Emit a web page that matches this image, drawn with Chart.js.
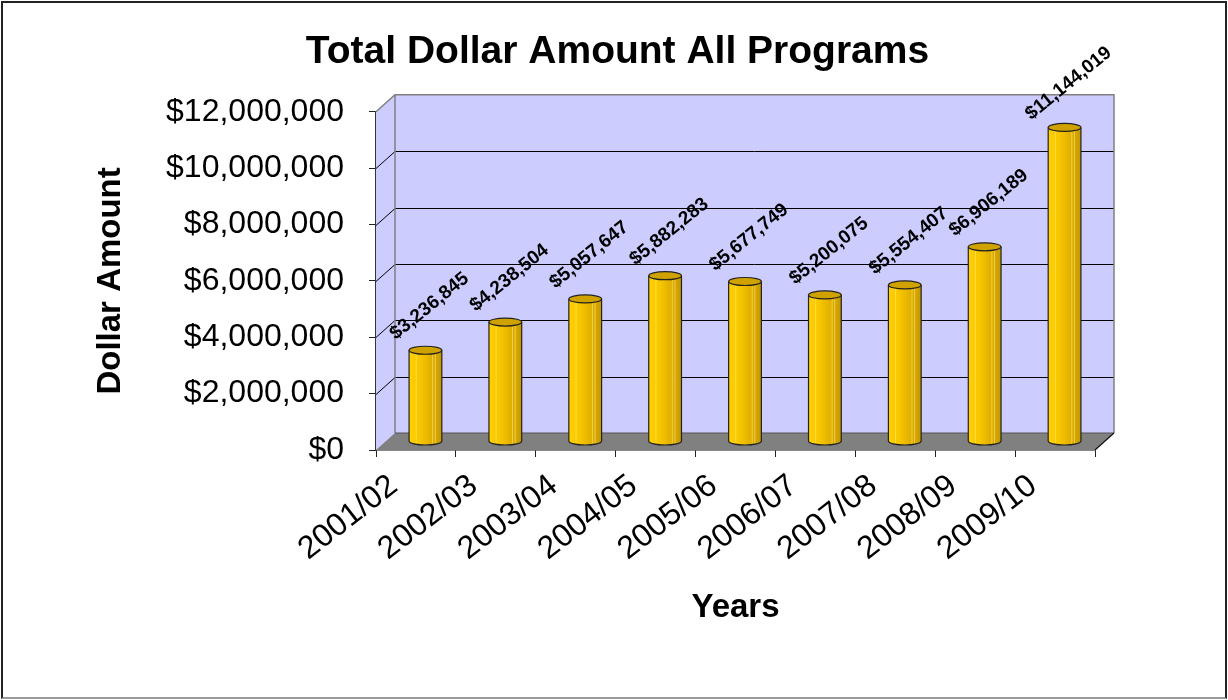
<!DOCTYPE html>
<html><head><meta charset="utf-8">
<script src="https://cdn.jsdelivr.net/npm/chart.js@4.4.1/dist/chart.umd.min.js"></script>
<style>
html,body{margin:0;padding:0;background:#fff;}
#wrap{position:relative;width:1228px;height:700px;}
#frame{position:absolute;left:1px;top:1px;width:1226px;height:698px;box-sizing:border-box;border:2px solid #222;border-bottom:2px solid #999;pointer-events:none;}
</style>
</head><body>
<div id="wrap"><canvas id="c" width="1228" height="700"></canvas><div id="frame"></div></div>
<script>
const categories = ['2001/02','2002/03','2003/04','2004/05','2005/06','2006/07','2007/08','2008/09','2009/10'];
const amounts = [3236845, 4238504, 5057647, 5882283, 5677749, 5200075, 5554407, 6906189, 11144019];
const yMin = 0, yMax = 12000000, yStep = 2000000;
const chartTitle = 'Total Dollar Amount All Programs';
const xTitle = 'Years';
const yTitle = 'Dollar Amount';

const FONT = '"Liberation Sans", Arial, Helvetica, sans-serif';
const DX = 19, DY = -17;
const money = v => '$' + Number(v).toLocaleString('en-US');

const depthPlugin = {
  id: 'depth3d',
  beforeDatasetsDraw(chart) {
    const {ctx, chartArea: a, scales: {y}} = chart;
    ctx.save();
    ctx.fillStyle = '#CCCCFF';
    ctx.beginPath();
    ctx.moveTo(a.left, a.top); ctx.lineTo(a.left + DX, a.top + DY);
    ctx.lineTo(a.right + DX, a.top + DY); ctx.lineTo(a.right + DX, a.bottom + DY);
    ctx.lineTo(a.left, a.bottom); ctx.closePath(); ctx.fill();
    ctx.strokeStyle = '#000'; ctx.lineWidth = 1;
    y.ticks.forEach(t => {
      if (t.value === yMin || t.value === yMax) return;
      const py = Math.round(y.getPixelForValue(t.value)) + 0.5;
      ctx.beginPath();
      ctx.moveTo(a.left, py); ctx.lineTo(a.left + DX, py + DY); ctx.lineTo(a.right + DX, py + DY);
      ctx.stroke();
    });
    ctx.strokeStyle = '#808080'; ctx.lineWidth = 1.5;
    ctx.beginPath();
    ctx.moveTo(a.left, a.top); ctx.lineTo(a.left + DX, a.top + DY);
    ctx.lineTo(a.right + DX, a.top + DY); ctx.lineTo(a.right + DX, a.bottom + DY);
    ctx.moveTo(a.left + DX, a.top + DY); ctx.lineTo(a.left + DX, a.bottom + DY);
    ctx.stroke();
    ctx.fillStyle = '#808080';
    ctx.beginPath();
    ctx.moveTo(a.left, a.bottom); ctx.lineTo(a.right, a.bottom);
    ctx.lineTo(a.right + DX, a.bottom + DY); ctx.lineTo(a.left + DX, a.bottom + DY);
    ctx.closePath(); ctx.fill();
    ctx.strokeStyle = '#555'; ctx.lineWidth = 1;
    ctx.beginPath();
    ctx.moveTo(a.left + DX, a.bottom + DY); ctx.lineTo(a.right + DX, a.bottom + DY);
    ctx.stroke();
    ctx.strokeStyle = '#111'; ctx.lineWidth = 1.2;
    ctx.beginPath();
    ctx.moveTo(a.right, a.bottom); ctx.lineTo(a.right + DX, a.bottom + DY);
    ctx.stroke();
    ctx.restore();
  },
  beforeDatasetDraw(chart) {
    chart.ctx.save();
    chart.ctx.translate(DX / 2, DY / 2);
  },
  afterDatasetDraw(chart) {
    chart.ctx.restore();
  },
  afterDatasetsDraw(chart) {
    const ctx = chart.ctx;
    const meta = chart.getDatasetMeta(0);
    ctx.save();
    ctx.translate(DX / 2, DY / 2);
    meta.data.forEach((bar, i) => {
      const {x, y, base, width} = bar.getProps(['x', 'y', 'base', 'width'], true);
      const l = x - width / 2, r = x + width / 2, rx = width / 2, ry = 4;
      const g = ctx.createLinearGradient(l, 0, r, 0);
      g.addColorStop(0, '#FFD000');
      g.addColorStop(0.35, '#F7C600');
      g.addColorStop(0.6, '#E6B400');
      g.addColorStop(0.85, '#D4A500');
      g.addColorStop(1, '#C39700');
      ctx.beginPath();
      ctx.moveTo(l, y);
      ctx.lineTo(l, base);
      ctx.ellipse(x, base, rx, ry, 0, Math.PI, 0, true);
      ctx.lineTo(r, y);
      ctx.ellipse(x, y, rx, ry, 0, 0, Math.PI, false);
      ctx.closePath();
      ctx.fillStyle = g; ctx.fill();
      ctx.strokeStyle = 'rgba(255,230,120,0.6)'; ctx.lineWidth = 1;
      [0.22, 0.72, 0.8].forEach(f => {
        ctx.beginPath(); ctx.moveTo(l + width * f, y + 4); ctx.lineTo(l + width * f, base + 3); ctx.stroke();
      });
      ctx.beginPath();
      ctx.moveTo(l, y);
      ctx.lineTo(l, base);
      ctx.ellipse(x, base, rx, ry, 0, Math.PI, 0, true);
      ctx.lineTo(r, y);
      ctx.strokeStyle = '#222'; ctx.lineWidth = 1.2; ctx.stroke();
      ctx.beginPath();
      ctx.ellipse(x, y, rx, ry, 0, 0, Math.PI * 2);
      ctx.fillStyle = '#CFA200'; ctx.fill();
      ctx.strokeStyle = '#222'; ctx.stroke();
      ctx.save();
      ctx.translate(x + 4, y - 44);
      ctx.rotate(-39 * Math.PI / 180);
      ctx.font = 'bold 19px ' + FONT;
      ctx.fillStyle = '#000';
      ctx.textAlign = 'center';
      ctx.textBaseline = 'middle';
      ctx.fillText(money(amounts[i]), 0, 0);
      ctx.restore();
    });
    ctx.restore();
  }
};

new Chart(document.getElementById('c'), {
  type: 'bar',
  data: {
    labels: categories,
    datasets: [{
      data: amounts,
      backgroundColor: '#F2C200',
      borderWidth: 0,
      barPercentage: 0.41,
      categoryPercentage: 1.0
    }]
  },
  options: {
    responsive: false,
    animation: false,
    devicePixelRatio: 1,
    layout: {padding: {top: 4, left: 91, right: 84, bottom: 72}},
    plugins: {
      legend: {display: false},
      tooltip: {enabled: false},
      title: {
        display: true, text: chartTitle, color: '#000',
        font: {family: FONT, size: 39, weight: 'bold'},
        padding: {top: 25, bottom: 36}
      }
    },
    scales: {
      x: {
        grid: {display: true, drawOnChartArea: false, drawTicks: true, tickLength: 7, color: '#222', offset: true},
        border: {display: true, color: '#111', width: 1.5},
        ticks: {color: '#000', font: {family: FONT, size: 32}, maxRotation: 38, minRotation: 38, padding: 10, labelOffset: -22, autoSkip: false},
        title: {display: true, text: xTitle, color: '#000', font: {family: FONT, size: 33, weight: 'bold'}, padding: 0},
        afterFit: s => { s.height = 178; }
      },
      y: {
        min: yMin, max: yMax,
        grid: {display: true, drawOnChartArea: false, drawTicks: true, tickLength: 7, color: '#222'},
        border: {display: true, color: '#333', width: 1.5},
        ticks: {stepSize: yStep, color: '#000', font: {family: FONT, size: 32}, padding: 25, callback: v => money(v)},
        title: {display: true, text: yTitle, color: '#000', font: {family: FONT, size: 33, weight: 'bold'}, padding: 0},
        afterFit: s => { s.width = 285; }
      },
      yRight: {
        type: 'linear', position: 'right', display: true,
        grid: {display: false}, border: {display: false}, ticks: {display: false},
        afterFit: s => { s.width = 49; }
      }
    }
  },
  plugins: [depthPlugin]
});
</script>
</body></html>
